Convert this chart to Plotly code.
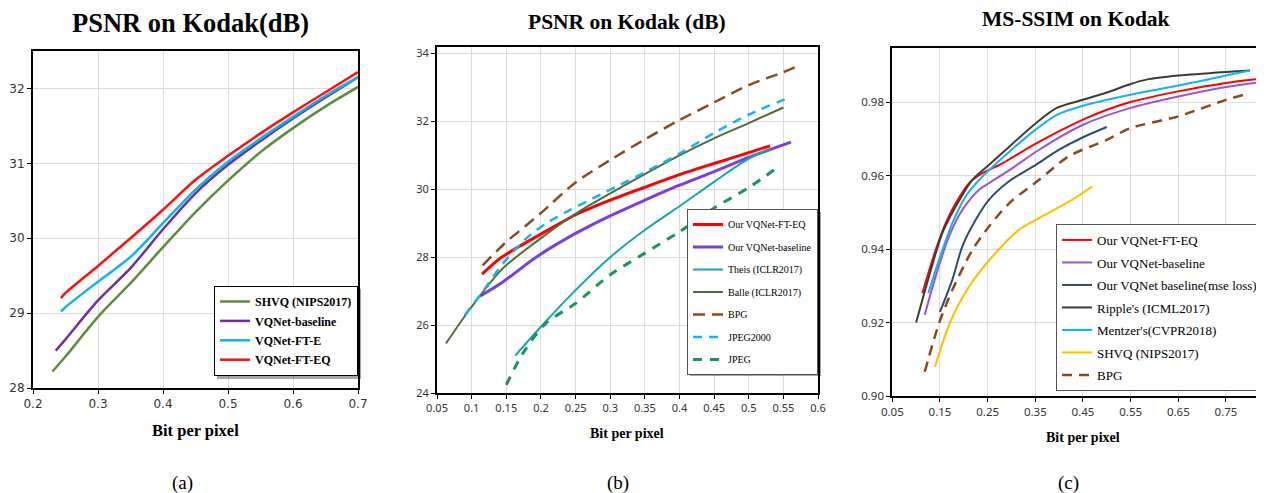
import plotly.graph_objects as go

# ---------------- Panel (a) data ----------------
a_names = ["SHVQ (NIPS2017)", "VQNet-baseline", "VQNet-FT-E", "VQNet-FT-EQ"]
a_shvq_x = [0.23, 0.25, 0.3, 0.35, 0.4, 0.45, 0.5, 0.55, 0.6, 0.65, 0.7]
a_shvq_y = [28.22, 28.42, 28.95, 29.4, 29.88, 30.35, 30.77, 31.15, 31.47, 31.76, 32.02]
a_base_x = [0.235, 0.25, 0.3, 0.35, 0.4, 0.45, 0.5, 0.55, 0.6, 0.65, 0.7]
a_base_y = [28.5, 28.65, 29.17, 29.6, 30.12, 30.6, 30.98, 31.3, 31.6, 31.88, 32.15]
a_fte_x = [0.243, 0.25, 0.3, 0.35, 0.4, 0.45, 0.5, 0.55, 0.6, 0.65, 0.7]
a_fte_y = [29.02, 29.08, 29.42, 29.75, 30.2, 30.65, 31.02, 31.33, 31.62, 31.9, 32.15]
a_fteq_x = [0.243, 0.25, 0.3, 0.35, 0.4, 0.45, 0.5, 0.55, 0.6, 0.65, 0.7]
a_fteq_y = [29.2, 29.27, 29.63, 30.0, 30.38, 30.78, 31.1, 31.4, 31.68, 31.95, 32.22]
a_xticks = [0.2, 0.3, 0.4, 0.5, 0.6, 0.7]
a_xticklabels = ["0.2", "0.3", "0.4", "0.5", "0.6", "0.7"]
a_yticks = [28, 29, 30, 31, 32]
a_yticklabels = ["28", "29", "30", "31", "32"]

# ---------------- Panel (b) data ----------------
b_names = ["Our VQNet-FT-EQ", "Our VQNet-baseline", "Theis (ICLR2017)",
           "Balle (ICLR2017)", "BPG", "JPEG2000", "JPEG"]
b_fteq_x = [0.115, 0.14, 0.164, 0.2, 0.25, 0.3, 0.35, 0.4, 0.45, 0.5, 0.531]
b_fteq_y = [27.5, 27.95, 28.26, 28.68, 29.25, 29.68, 30.06, 30.43, 30.76, 31.08, 31.28]
b_base_x = [0.112, 0.145, 0.193, 0.25, 0.3, 0.35, 0.4, 0.45, 0.5, 0.561]
b_base_y = [26.85, 27.27, 28.0, 28.7, 29.22, 29.68, 30.12, 30.52, 30.94, 31.39]
b_theis_x = [0.163, 0.2, 0.25, 0.3, 0.35, 0.4, 0.45, 0.5, 0.531]
b_theis_y = [25.1, 25.95, 27.03, 28.0, 28.8, 29.5, 30.22, 30.9, 31.2]
b_balle_x = [0.063, 0.1, 0.145, 0.193, 0.25, 0.3, 0.35, 0.4, 0.45, 0.5, 0.55]
b_balle_y = [25.46, 26.54, 27.67, 28.45, 29.28, 29.88, 30.45, 31.0, 31.5, 31.95, 32.41]
b_bpg_x = [0.116, 0.15, 0.179, 0.2, 0.25, 0.3, 0.35, 0.4, 0.45, 0.5, 0.55, 0.572]
b_bpg_y = [27.76, 28.45, 28.94, 29.3, 30.2, 30.86, 31.47, 32.04, 32.56, 33.07, 33.45, 33.64]
b_j2k_x = [0.09, 0.114, 0.145, 0.176, 0.207, 0.241, 0.275, 0.308, 0.35, 0.4, 0.45, 0.5, 0.562]
b_j2k_y = [26.29, 26.93, 27.81, 28.5, 28.99, 29.38, 29.73, 30.07, 30.5, 31.05, 31.66, 32.2, 32.73]
b_jpeg_x = [0.15, 0.174, 0.207, 0.25, 0.3, 0.35, 0.4, 0.45, 0.5, 0.545]
b_jpeg_y = [24.24, 25.17, 26.05, 26.64, 27.48, 28.12, 28.75, 29.45, 30.05, 30.7]
b_xticks = [0.05, 0.1, 0.15, 0.2, 0.25, 0.3, 0.35, 0.4, 0.45, 0.5, 0.55, 0.6]
b_xticklabels = ["0.05", "0.1", "0.15", "0.2", "0.25", "0.3", "0.35", "0.4",
                 "0.45", "0.5", "0.55", "0.6"]
b_yticks = [24, 26, 28, 30, 32, 34]
b_yticklabels = ["24", "26", "28", "30", "32", "34"]

# ---------------- Panel (c) data ----------------
c_names = ["Our VQNet-FT-EQ", "Our VQNet-baseline", "Our VQNet baseline(mse loss)",
           "Ripple's (ICML2017)", "Mentzer's(CVPR2018)", "SHVQ (NIPS2017)", "BPG"]
c_fteq_x = [0.113, 0.141, 0.162, 0.183, 0.211, 0.239, 0.281, 0.35, 0.45, 0.5, 0.55, 0.65, 0.75, 0.85]
c_fteq_y = [0.928, 0.9398, 0.9471, 0.9525, 0.958, 0.9607, 0.9634, 0.9687, 0.9753, 0.978, 0.9801, 0.983, 0.9853, 0.9868]
c_base_x = [0.118, 0.141, 0.169, 0.197, 0.232, 0.253, 0.302, 0.358, 0.45, 0.55, 0.65, 0.75, 0.85]
c_base_y = [0.9221, 0.9326, 0.9435, 0.9507, 0.9562, 0.958, 0.9621, 0.9671, 0.9739, 0.9785, 0.9816, 0.9842, 0.986]
c_mse_x = [0.15, 0.176, 0.197, 0.225, 0.253, 0.295, 0.351, 0.4, 0.45, 0.5]
c_mse_y = [0.9229, 0.9317, 0.9408, 0.948, 0.9535, 0.9585, 0.963, 0.9671, 0.9705, 0.9733]
c_ripple_x = [0.1, 0.127, 0.155, 0.183, 0.218, 0.253, 0.288, 0.35, 0.395, 0.45, 0.5, 0.55, 0.583, 0.65, 0.75, 0.8]
c_ripple_y = [0.92, 0.9326, 0.9444, 0.9516, 0.9589, 0.963, 0.9671, 0.9742, 0.9785, 0.9807, 0.9827, 0.985, 0.9862, 0.9873, 0.9883, 0.9887]
c_mentzer_x = [0.1255, 0.148, 0.176, 0.204, 0.239, 0.295, 0.35, 0.395, 0.45, 0.55, 0.65, 0.75, 0.8]
c_mentzer_y = [0.928, 0.9371, 0.9471, 0.9544, 0.9598, 0.9665, 0.9725, 0.9766, 0.9791, 0.9821, 0.9846, 0.9873, 0.9887]
c_shvq_x = [0.1395, 0.172, 0.211, 0.26, 0.316, 0.365, 0.428, 0.47]
c_shvq_y = [0.908, 0.9203, 0.9298, 0.938, 0.9453, 0.949, 0.9535, 0.9571]
c_bpg_x = [0.118, 0.148, 0.176, 0.218, 0.253, 0.295, 0.358, 0.42, 0.5, 0.55, 0.65, 0.75, 0.797]
c_bpg_y = [0.9066, 0.9198, 0.9289, 0.9398, 0.9462, 0.9525, 0.9589, 0.9653, 0.9698, 0.973, 0.9762, 0.9807, 0.9824]
c_xticks = [0.05, 0.15, 0.25, 0.35, 0.45, 0.55, 0.65, 0.75, 0.85]
c_xticklabels = ["0.05", "0.15", "0.25", "0.35", "0.45", "0.55", "0.65", "0.75", "0.85"]
c_yticks = [0.90, 0.92, 0.94, 0.96, 0.98]
c_yticklabels = ["0.90", "0.92", "0.94", "0.96", "0.98"]

titles = ["PSNR on Kodak(dB)", "PSNR on Kodak (dB)", "MS-SSIM on Kodak"]
xlabel = "Bit per pixel"
panel_labels = ["(a)", "(b)", "(c)"]

SERIF = "Liberation Serif, Times New Roman, serif"

fig = go.Figure()


def add(x, y, name, color, width, xa, ya, leg, dash="solid", group=None):
    fig.add_trace(go.Scatter(
        x=x, y=y, name=name, mode="lines",
        line=dict(color=color, width=width, dash=dash, shape="spline", smoothing=0.8),
        xaxis=xa, yaxis=ya, legend=leg, legendgroup=group or name,
        hoverinfo="skip"))


# panel a
add(a_shvq_x, a_shvq_y, a_names[0], "#5e8c3e", 2.5, "x", "y", "legend", group="a0")
add(a_base_x, a_base_y, a_names[1], "#7030a0", 2.5, "x", "y", "legend", group="a1")
add(a_fte_x, a_fte_y, a_names[2], "#12b0ec", 2.5, "x", "y", "legend", group="a2")
add(a_fteq_x, a_fteq_y, a_names[3], "#ff1010", 2.5, "x", "y", "legend", group="a3")

# panel b
add(b_fteq_x, b_fteq_y, b_names[0], "#ff0000", 3, "x2", "y2", "legend2", group="b0")
add(b_base_x, b_base_y, b_names[1], "#7a3fe0", 3, "x2", "y2", "legend2", group="b1")
add(b_theis_x, b_theis_y, b_names[2], "#1aa3b3", 2, "x2", "y2", "legend2", group="b2")
add(b_balle_x, b_balle_y, b_names[3], "#4e6b3a", 2, "x2", "y2", "legend2", group="b3")
add(b_bpg_x, b_bpg_y, b_names[4], "#8b4a1c", 2.5, "x2", "y2", "legend2", dash="12px,7px", group="b4")
add(b_j2k_x, b_j2k_y, b_names[5], "#16b4ee", 2.5, "x2", "y2", "legend2", dash="9px,7px", group="b5")
add(b_jpeg_x, b_jpeg_y, b_names[6], "#16965a", 3, "x2", "y2", "legend2", dash="9px,8px", group="b6")

# panel c
add(c_fteq_x, c_fteq_y, c_names[0], "#ff0000", 2, "x3", "y3", "legend3", group="c0")
add(c_base_x, c_base_y, c_names[1], "#9a55d0", 2, "x3", "y3", "legend3", group="c1")
add(c_mse_x, c_mse_y, c_names[2], "#2c4a78", 2, "x3", "y3", "legend3", group="c2")
add(c_ripple_x, c_ripple_y, c_names[3], "#3c3c3c", 2, "x3", "y3", "legend3", group="c3")
add(c_mentzer_x, c_mentzer_y, c_names[4], "#16b2f0", 2, "x3", "y3", "legend3", group="c4")
add(c_shvq_x, c_shvq_y, c_names[5], "#ffc000", 2, "x3", "y3", "legend3", group="c5")
add(c_bpg_x, c_bpg_y, c_names[6], "#8b4a1c", 2.5, "x3", "y3", "legend3", dash="10px,7px", group="c6")

W, H = 1264, 493
OFF = 8  # the page body margin shifts the figure by this many pixels


def px(v):
    return (v - OFF) / W


def py(v):
    return 1 - (v - OFF) / H


grid = "#dcdcdc"


def axis(domain, rng, tv, tt, font, anchor, mirror=True):
    return dict(domain=domain, range=rng, tickvals=tv, ticktext=tt, anchor=anchor,
                showgrid=True, gridcolor=grid, gridwidth=1, zeroline=False,
                showline=True, linecolor="black", linewidth=2, mirror=mirror,
                ticks="outside", ticklen=4, tickcolor="black", tickwidth=1,
                tickfont=font)


fa = dict(family="DejaVu Sans, Verdana, sans-serif", size=12, color="#333333")
fb = dict(family="Noto Sans, Open Sans, sans-serif", size=11, color="#333333")
fc = dict(family="Noto Sans, Open Sans, sans-serif", size=11.5, color="#333333")

c_left = 892.3
c_end = 0.05 + (W + OFF - c_left) / 476.7

layout = dict(
    width=W, height=H, margin=dict(l=0, r=0, t=0, b=0, autoexpand=False),
    paper_bgcolor="white", plot_bgcolor="white", showlegend=True,
    xaxis=axis([px(33), px(358)], [0.2, 0.7], a_xticks, a_xticklabels, fa, "y"),
    yaxis=axis([py(388), py(51)], [28, 32.5], a_yticks, a_yticklabels, fa, "x"),
    xaxis2=axis([px(437), px(818)], [0.05, 0.6], b_xticks, b_xticklabels, fb, "y2"),
    yaxis2=axis([py(393), py(46.7)], [24, 34.2], b_yticks, b_yticklabels, fb, "x2"),
    xaxis3=axis([px(c_left), 1.0], [0.05, c_end], c_xticks, c_xticklabels, fc, "y3"),
    yaxis3=axis([py(396), py(47.7)], [0.90, 0.9949], c_yticks, c_yticklabels, fc, "x3"),
    legend=dict(x=px(214), y=py(286), xanchor="left", yanchor="top",
                bgcolor="white", bordercolor="black", borderwidth=1,
                font=dict(family=SERIF, size=12, color="black", weight="bold"),
                traceorder="grouped", tracegroupgap=0.4),
    legend2=dict(x=px(687), y=py(209), xanchor="left", yanchor="top",
                 bgcolor="white", bordercolor="#555555", borderwidth=1,
                 font=dict(family=SERIF, size=10, color="black"),
                 traceorder="grouped", tracegroupgap=3.5),
    legend3=dict(x=px(1056), y=py(224), xanchor="left", yanchor="top",
                 bgcolor="white", bordercolor="#555555", borderwidth=1,
                 font=dict(family=SERIF, size=13, color="black"),
                 traceorder="grouped", tracegroupgap=2.6),
)
fig.update_layout(**layout)

# titles, axis labels, panel labels
centers = [(190, 23, 26.5), (627, 22, 21.5), (1076, 19, 21.5)]
for t, (cx, cy, fs) in zip(titles, centers):
    fig.add_annotation(text="<b>%s</b>" % t, x=px(cx), y=py(cy), xref="paper", yref="paper",
                       showarrow=False, xanchor="center", yanchor="middle",
                       font=dict(family=SERIF, size=fs, color="black"))
xl = [(196, 430, 16.5), (627, 433, 14), (1083, 437, 14)]
for cx, cy, fs in xl:
    fig.add_annotation(text="<b>%s</b>" % xlabel, x=px(cx), y=py(cy), xref="paper", yref="paper",
                       showarrow=False, xanchor="center", yanchor="middle",
                       font=dict(family=SERIF, size=fs, color="black"))
pl = [(183, 483), (618, 483), (1068, 483)]
for t, (cx, cy) in zip(panel_labels, pl):
    fig.add_annotation(text=t, x=px(cx), y=py(cy), xref="paper", yref="paper",
                       showarrow=False, xanchor="center", yanchor="middle",
                       font=dict(family=SERIF, size=19, color="black"))

# legend drop shadows (sized to the rendered legend boxes)
for (x0, y0, x1, y1) in [(214, 286, 358, 376), (687, 209, 818, 373), (1056, 224, 1290, 388)]:
    fig.add_shape(type="rect", xref="paper", yref="paper",
                  x0=px(x0 + 3), x1=px(x1 + 3), y0=py(y1 + 3), y1=py(y0 + 3),
                  fillcolor="rgba(0,0,0,0.35)", line=dict(width=0), layer="above")

fig.write_html("out.html")
